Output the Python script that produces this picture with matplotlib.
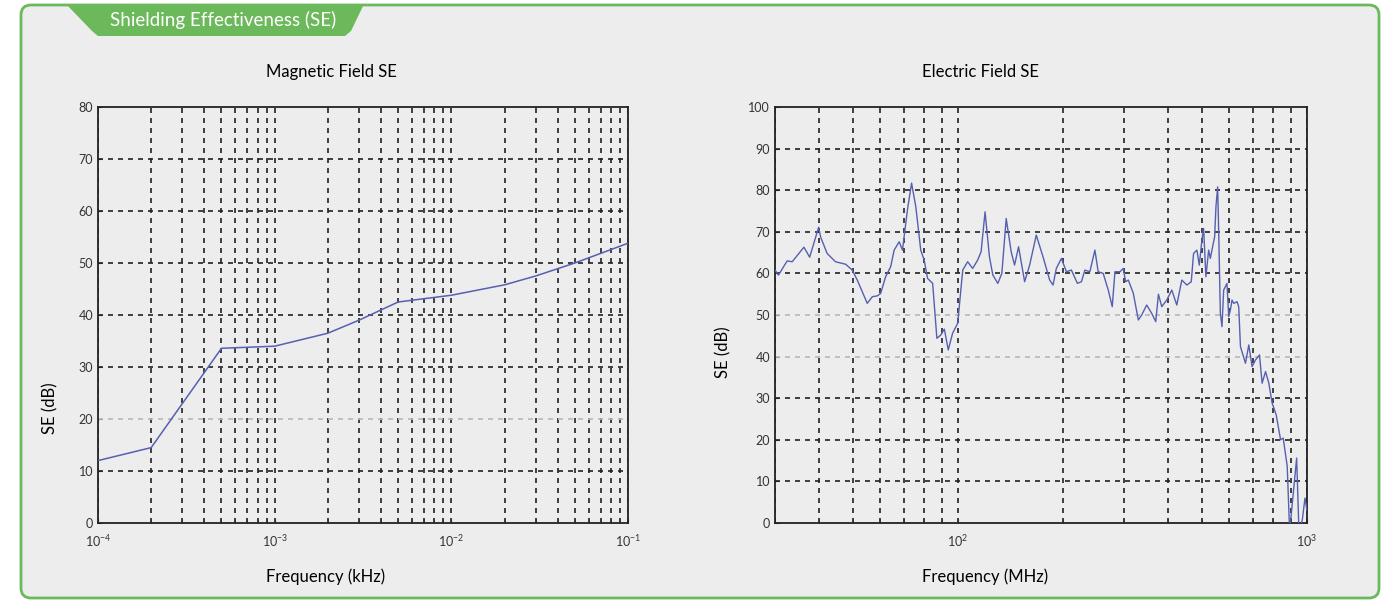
import numpy as np
import matplotlib
matplotlib.use("agg")
import matplotlib.pyplot as plt
from matplotlib.patches import FancyBboxPatch, Polygon
from matplotlib.ticker import LogLocator, FixedLocator, NullFormatter

plt.rcParams['font.family'] = ['Lato', 'DejaVu Sans']

# magnetic field SE (kHz, dB)
mag_freq = [1e-4, 2e-4, 5e-4, 1e-3, 2e-3, 3e-3, 5e-3, 1e-2, 2e-2, 3e-2, 5e-2, 1e-1]
mag_se = [12.0, 14.5, 33.6, 34.0, 36.5, 39.0, 42.5, 43.8, 45.8, 47.5, 50.0, 53.8]

# electric field SE (MHz, dB)
el_freq = [30, 30.7, 32.5, 33.6, 36.3, 37.7, 40.0, 40.5, 42.3, 44.7, 47.8, 49.9,
           51.6, 55.1, 57.0, 58.9, 60.2, 62.2, 64.3, 65.8, 68.0, 69.5, 71.8, 73.8,
           75.9, 78.4, 80.2, 82.0, 84.8, 87.2, 89.5, 91.6, 94.0, 96.7, 100.0, 103.4,
           106.8, 110.4, 114.1, 116.7, 119.8, 123.3, 126.1, 130.3, 133.8, 137.7, 142.3,
           145.5, 149.4, 155.5, 160.7, 167.9, 175.5, 183.4, 187.5, 191.6, 198.1, 204.8,
           211.6, 220.2, 226.1, 231.3, 239.0, 247.1, 252.5, 261.0, 269.8, 277.0, 282.0,
           291.5, 297.9, 302.5, 308.0, 318.3, 329.0, 336.3, 347.6, 359.3, 369.0, 375.6,
           383.9, 396.8, 410.1, 423.9, 438.2, 452.9, 466.3, 473.5, 483.9, 491.7, 500.2,
           505.9, 513.6, 522.9, 528.8, 534.4, 544.0, 548.7, 554.9, 558.6, 564.9, 571.0,
           577.4, 590.1, 596.8, 603.5, 610.0, 616.9, 630.5, 637.6, 644.9, 666.6, 681.3,
           696.3, 712.2, 731.2, 743.9, 760.9, 777.6, 794.8, 816.2, 840.3, 854.9, 877.8,
           891.8, 917.6, 934.1, 948.4, 969.4, 986.8, 1000]
el_se = [60.8, 59.6, 63.0, 62.8, 66.3, 63.9, 71.1, 68.8, 64.8, 62.8, 62.2, 60.8,
         58.4, 52.8, 54.4, 54.6, 55.2, 59.2, 61.6, 65.6, 67.6, 65.6, 75.2, 81.7,
         76.0, 65.6, 63.2, 58.8, 57.6, 44.4, 45.2, 46.6, 41.6, 45.6, 48.0, 60.8,
         62.8, 61.2, 63.2, 65.2, 74.8, 64.0, 59.6, 57.6, 60.0, 73.2, 65.2,
         62.0, 66.4, 58.0, 62.0, 69.2, 64.0, 58.4, 57.2, 61.2, 63.6, 60.4,
         60.8, 57.6, 58.0, 60.8, 60.4, 65.6, 60.4, 60.0, 56.0, 52.0, 60.4,
         60.4, 61.2, 58.0, 58.4, 55.2, 48.8, 50.0, 52.4, 50.4, 48.4, 55.0,
         52.0, 53.6, 56.0, 52.4, 58.4, 57.2, 58.0, 64.8, 65.6, 62.0, 68.0,
         70.8, 59.2, 65.6, 63.6, 65.6, 68.8, 76.0, 80.8, 70.4, 50.4, 47.2,
         56.0, 57.6, 49.6, 51.2, 53.6, 52.8, 53.2, 52.0, 42.4, 38.4, 42.8,
         37.6, 39.2, 40.4, 33.6, 36.4, 33.6, 28.8, 26.0, 20.0, 20.4, 13.6,
         -2.0, 8.8, 15.6, -2.0, 0.7, 6.0, 3.0]

mag_yticks = [0, 10, 20, 30, 40, 50, 60, 70, 80]
el_yticks = [0, 10, 20, 30, 40, 50, 60, 70, 80, 90, 100]

W, H = 1397, 601
fig = plt.figure(figsize=(W / 100, H / 100), dpi=100)
fig.patch.set_facecolor('white')

GREEN = '#6cb95b'
PANEL = '#ededed'

# background panel drawn in pixel coordinates
bg = fig.add_axes([0, 0, 1, 1], zorder=0)
bg.set_xlim(0, W)
bg.set_ylim(H, 0)
bg.axis('off')
bg.add_patch(FancyBboxPatch((21, 5), 1358, 593, boxstyle='round,pad=0,rounding_size=10',
                            facecolor=PANEL, edgecolor=GREEN, linewidth=2))
bg.add_patch(Polygon([(66, 4), (364, 4), (351, 31), (345, 36), (98, 36), (92, 31)],
                     closed=True, facecolor=GREEN, edgecolor='none'))
bg.text(223, 20, 'Shielding Effectiveness (SE)', color='white', fontsize=13.5,
        ha='center', va='center')

# titles and axis labels placed as in the source image
bg.text(331, 72, 'Magnetic Field SE', fontsize=12, ha='center', va='center')
bg.text(981, 72, 'Electric Field SE', fontsize=12, ha='center', va='center')
bg.text(326, 577, 'Frequency (kHz)', fontsize=12, ha='center', va='center')
bg.text(985, 577, 'Frequency (MHz)', fontsize=12, ha='center', va='center')
bg.text(50, 408, 'SE (dB)', fontsize=12, ha='center', va='center', rotation=90)
bg.text(723, 352, 'SE (dB)', fontsize=12, ha='center', va='center', rotation=90)


def style_axes(ax, gray_levels):
    ax.set_facecolor(PANEL)
    ax.set_xscale('log')
    for s in ax.spines.values():
        s.set_color('#222222')
        s.set_linewidth(1.3)
    ax.tick_params(axis='both', which='both', direction='in', colors='#333333',
                   labelsize=9, length=3)
    ax.tick_params(axis='x', which='major', pad=7)
    ax.xaxis.set_minor_locator(LogLocator(base=10, subs=np.arange(2, 10)))
    ax.xaxis.set_minor_formatter(NullFormatter())
    ax.grid(True, which='both', axis='x', color='#222222', linestyle=(0, (3, 3)), linewidth=1.2)
    ylo, yhi = ax.get_ylim()
    for y in ax.get_yticks():
        if y <= ylo or y >= yhi:
            continue
        c = '#b8b8b8' if y in gray_levels else '#222222'
        ax.axhline(y, color=c, linestyle=(0, (3, 3)), linewidth=1.2, zorder=1)
    ax.set_axisbelow(True)


ax1 = fig.add_axes([98 / W, (H - 523) / H, 530 / W, 416 / H], zorder=2)
ax1.set_ylim(0, 80)
ax1.set_xlim(1e-4, 1e-1)
ax1.set_yticks(mag_yticks)
style_axes(ax1, [20])
ax1.plot(mag_freq, mag_se, color='#5560b0', linewidth=1.1, zorder=3)

ax2 = fig.add_axes([775 / W, (H - 523) / H, 532 / W, 416 / H], zorder=2)
ax2.set_ylim(0, 100)
ax2.set_xlim(30, 1000)
ax2.set_yticks(el_yticks)
ax2.xaxis.set_major_locator(FixedLocator([100, 1000]))
style_axes(ax2, [40, 50])
ax2.plot(el_freq, el_se, color='#5560b0', linewidth=1.0, zorder=3)

fig.savefig('out.png', dpi=100, facecolor='white')
